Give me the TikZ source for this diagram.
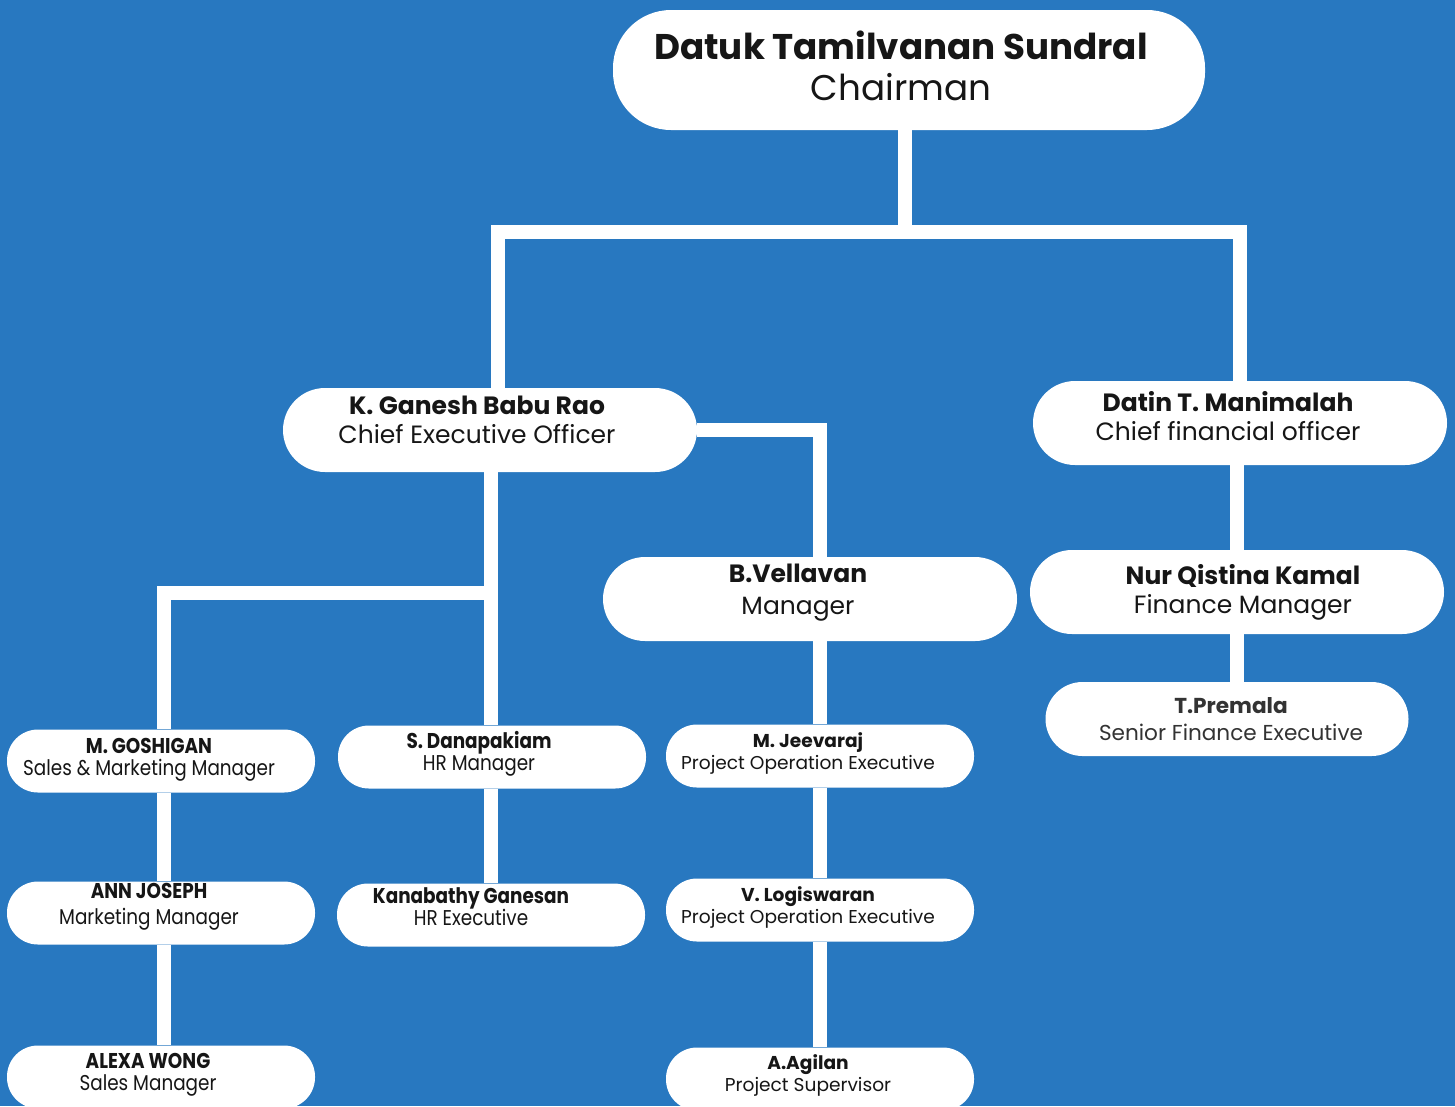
\documentclass[tikz,border=0pt]{standalone}
\usepackage{fontspec}
\setmainfont{Poppins}
\newfontfamily\narrowfont[FakeStretch=0.86]{Poppins}
\usetikzlibrary{positioning}
\definecolor{orgblue}{RGB}{40,120,192}
\definecolor{inkdark}{RGB}{22,22,22}
% name and post, pushed sideways by #1, lifted by the depth #4
\newcommand{\who}[4][24pt]{{\bfseries #2}\hspace*{#1}\\#3\hspace*{#1}\rule[-#4]{0pt}{0pt}}

\begin{document}
\begin{tikzpicture}[x=1pt, y=-1pt,
    pill/.style={fill=white, text=inkdark, align=center, inner sep=0pt},
    bigbox/.style={pill, minimum width=592pt, minimum height=120pt, rounded corners=58pt, font=\fontsize{35.7}{41}\selectfont},
    midbox/.style={pill, minimum width=414pt, minimum height=84pt, rounded corners=42pt, font=\fontsize{25}{29}\selectfont},
    smallbox/.style={pill, minimum width=308pt, minimum height=63pt, rounded corners=31pt, font=\fontsize{18.6}{22}\selectfont},
    narrowbox/.style={smallbox, font=\narrowfont\fontsize{21.4}{22}\selectfont},
    link/.style={draw=white, line width=14pt}]
  \fill[orgblue] (0,0) rectangle (1455,1106);
  \useasboundingbox (0,0) rectangle (1455,1106);
  % top level
  \node[bigbox] (chair) at (909,70) {\who[16pt]{Datuk Tamilvanan Sundral}{Chairman}{8pt}};
  \node[midbox] (ceo) at (490,430) {\who[26pt]{K. Ganesh Babu Rao}{Chief Executive Officer}{20pt}};
  \node[midbox] (cfo) at (1240,423) {\who{Datin T. Manimalah}{Chief financial officer}{14pt}};
  \node[midbox, font=\fontsize{25}{32}\selectfont] (vel) at (810,599) {\who{B.Vellavan}{Manager}{20pt}};
  \node[midbox] (nur) at (1237,592) {\who[-12pt]{Nur Qistina Kamal}{Finance Manager}{0pt}};
  \node[smallbox, minimum width=363pt, minimum height=74pt, rounded corners=37pt,
    text=black!80, font=\fontsize{21.6}{27}\selectfont] (prem) at (1227,719)
    {\who[-8pt]{T.Premala}{Senior Finance Executive}{0pt}};
  % sales column
  \node[narrowbox] (gosh) at (161,761) {\who{M. GOSHIGAN}{Sales \& Marketing Manager}{9pt}};
  \node[narrowbox, font=\narrowfont\fontsize{21.4}{26}\selectfont] (ann) at (161,913)
    {\who{ANN JOSEPH}{Marketing Manager}{19pt}};
  \node[narrowbox] (alexa) at (161,1077) {\who[26pt]{ALEXA WONG}{Sales Manager}{11pt}};
  % hr column
  \node[narrowbox] (dana) at (492,757) {\who[26pt]{S. Danapakiam}{HR Manager}{13pt}};
  \node[narrowbox] (kana) at (491,915) {\who[40pt]{Kanabathy Ganesan}{HR Executive}{16pt}};
  % project column
  \node[smallbox] (jeev) at (820,756) {\who{M. Jeevaraj}{Project Operation Executive}{10pt}};
  \node[smallbox] (logi) at (820,910) {\who{V. Logiswaran}{Project Operation Executive}{10pt}};
  \node[smallbox] (agil) at (820,1079) {\who{A.Agilan}{Project Supervisor}{12pt}};

  % connectors
  \coordinate (top) at (905,232);
  \coordinate (mid) at (491,593);
  \draw[link] (chair.south -| top) -- (top);
  \draw[link] ([xshift=8pt]ceo.north) |- (top) -| (cfo.north);
  \draw[link] (ceo.east) -| (vel.north -| jeev);
  \draw[link] (ceo.south -| mid) -- (dana.north -| mid);
  \draw[link] (mid) -| ([xshift=3pt]gosh.north);
  \draw[link] (dana.south -| mid) -- (kana.north -| mid);
  \draw[link] (vel.south -| jeev) -- (jeev.north);
  \foreach \a/\b in {gosh/ann, ann/alexa}
    \draw[link] ([xshift=3pt]\a.south) -- ([xshift=3pt]\b.north);
  \foreach \a/\b in {jeev/logi, logi/agil}
    \draw[link] (\a.south) -- (\b.north);
  \draw[link] (cfo.south -| nur) -- (nur.north);
  \draw[link] (nur.south) -- (nur.south |- prem.north);
\end{tikzpicture}
\end{document}
